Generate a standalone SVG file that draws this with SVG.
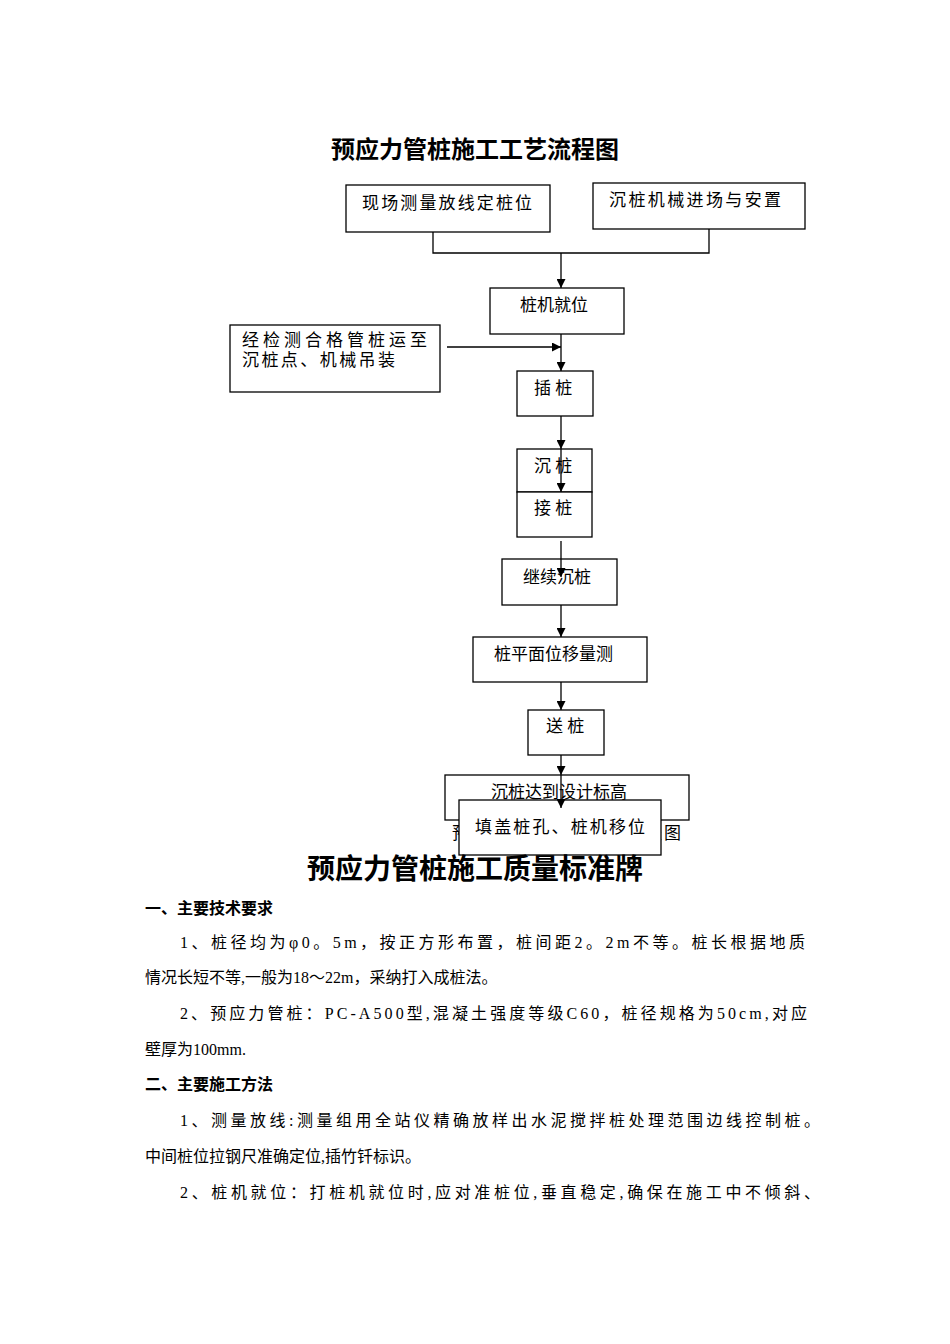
<svg xmlns="http://www.w3.org/2000/svg" width="950" height="1344" viewBox="0 0 950 1344">
<style>
.b{fill:#fff;stroke:#000;stroke-width:1.3}
.t{font-family:"Liberation Serif","Noto Sans CJK SC",serif;font-size:17px;fill:#000}
.p{font-family:"Liberation Serif","Noto Sans CJK SC",serif;font-size:16px;fill:#000}
.h{font-family:"Liberation Sans","Noto Sans CJK SC",sans-serif;font-size:16px;font-weight:bold}
.c{stroke:#000;stroke-width:1.3;fill:none}
</style>
<defs><marker id="a" viewBox="0 0 10 10" refX="10" refY="5" markerWidth="9" markerHeight="9" markerUnits="userSpaceOnUse" orient="auto"><path d="M0,0L10,5L0,10z"/></marker></defs>
<rect width="950" height="1344" fill="#fff"/>
<text x="475" y="158" text-anchor="middle" font-family="Liberation Sans,'Noto Sans CJK SC',sans-serif" font-size="24" font-weight="bold">预应力管桩施工工艺流程图</text>
<text class="t" x="452" y="839" font-size="18" textLength="229">预应力管桩施工工艺流程图</text>
<g id="n1"><rect class="b" x="346" y="185" width="204" height="47"/><text class="t" x="362" y="209" textLength="170">现场测量放线定桩位</text></g>
<g id="n2"><rect class="b" x="593" y="183" width="212" height="46"/><text class="t" x="609" y="206" textLength="172">沉桩机械进场与安置</text></g>
<g id="n3"><rect class="b" x="490" y="288" width="134" height="46"/><text class="t" x="520" y="311">桩机就位</text></g>
<g id="n4"><rect class="b" x="230" y="325" width="210" height="67"/><text class="t" x="242" y="346" textLength="185">经检测合格管桩运至</text><text class="t" x="242" y="366" textLength="153">沉桩点、机械吊装</text></g>
<g id="n5"><rect class="b" x="517" y="371" width="76" height="45"/><text class="t" x="534" y="394">插 桩</text></g>
<g id="n6"><rect class="b" x="517" y="449" width="75" height="43"/><text class="t" x="534" y="472">沉 桩</text></g>
<g id="n7"><rect class="b" x="517" y="492" width="75" height="45"/><text class="t" x="534" y="514">接 桩</text></g>
<g id="n8"><rect class="b" x="502" y="559" width="115" height="46"/><text class="t" x="523" y="583">继续沉桩</text></g>
<g id="n9"><rect class="b" x="473" y="637" width="174" height="45"/><text class="t" x="494" y="660">桩平面位移量测</text></g>
<g id="n10"><rect class="b" x="528" y="710" width="76" height="45"/><text class="t" x="546" y="732">送 桩</text></g>
<g id="n11"><rect class="b" x="445" y="775" width="244" height="45"/><text class="t" x="491" y="798">沉桩达到设计标高</text></g>
<g id="conn">
<path class="c" d="M433,232V253H709V229M561,253V288" marker-end="url(#a)"/>
<path class="c" d="M447,347H561" marker-end="url(#a)"/>
<path class="c" d="M561,334V371" marker-end="url(#a)"/>
<path class="c" d="M561,416V449" marker-end="url(#a)"/>
<path class="c" d="M561,449V492" marker-end="url(#a)"/>
<path class="c" d="M561,541V577" marker-end="url(#a)"/>
<path class="c" d="M561,605V637" marker-end="url(#a)"/>
<path class="c" d="M561,682V710" marker-end="url(#a)"/>
<path class="c" d="M561,755V775" marker-end="url(#a)"/>
<path class="c" d="M561,775V808" marker-end="url(#a)"/>
</g>
<g id="n12"><rect class="b" x="459" y="800" width="202" height="55"/><path class="c" d="M561,800V808" marker-end="url(#a)"/><text class="t" x="475" y="833" textLength="170">填盖桩孔、桩机移位</text></g>
<text x="475" y="879" text-anchor="middle" font-family="Liberation Sans,'Noto Sans CJK SC',sans-serif" font-size="28" font-weight="bold">预应力管桩施工质量标准牌</text>
<text class="h" x="145" y="914">一、主要技术要求</text>
<text class="p" x="180" y="948" textLength="625">1、桩径均为φ0。5m，按正方形布置，桩间距2。2m不等。桩长根据地质</text>
<text class="p" x="145" y="983">情况长短不等,一般为18～22m，采纳打入成桩法。</text>
<text class="p" x="180" y="1019" textLength="627">2、预应力管桩：PC-A500型,混凝土强度等级C60，桩径规格为50cm,对应</text>
<text class="p" x="145" y="1055">壁厚为100mm.</text>
<text class="h" x="145" y="1090">二、主要施工方法</text>
<text class="p" x="180" y="1126" textLength="640">1、测量放线:测量组用全站仪精确放样出水泥搅拌桩处理范围边线控制桩。</text>
<text class="p" x="145" y="1162">中间桩位拉钢尺准确定位,插竹钎标识。</text>
<text class="p" x="180" y="1198" textLength="640">2、桩机就位：打桩机就位时,应对准桩位,垂直稳定,确保在施工中不倾斜、</text>
</svg>
